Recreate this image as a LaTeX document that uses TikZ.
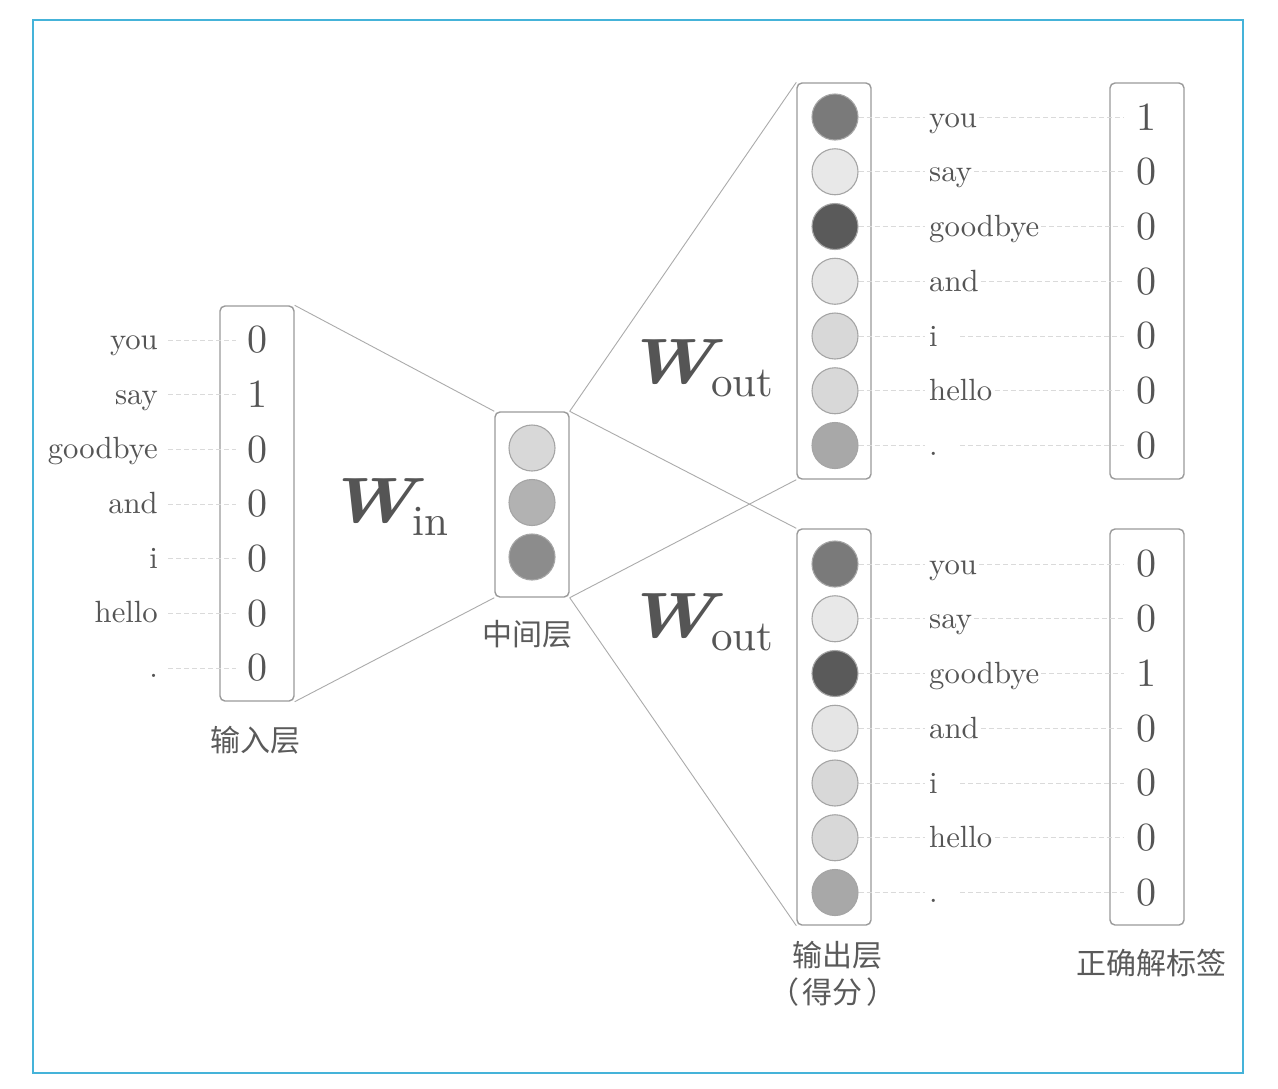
\documentclass[tikz,border=0pt]{standalone}
\usepackage{fontspec}
\newfontfamily\cjk{Noto Sans CJK SC}
\newfontfamily\lmten{lmroman10-regular.otf}[BoldItalicFont=lmroman10-bolditalic.otf]
\usetikzlibrary{calc}
\definecolor{txt}{HTML}{555555}
\definecolor{cjkc}{HTML}{5A5A5A}
\definecolor{boxc}{HTML}{9A9A9A}
\definecolor{connc}{HTML}{ABABAB}
\definecolor{dashc}{HTML}{DADADA}
\definecolor{circb}{HTML}{A5A5A5}
\definecolor{frame}{HTML}{45B3D9}
\newcommand\mylbl[1]{\setbox0\hbox{#1}\ifdim\wd0<29pt\makebox[29pt][l]{#1}\else#1\fi}
\newcommand\wsub[1]{\scalebox{1.2}[1]{\fontsize{64}{70}\selectfont\bfseries\itshape W}\kern-3pt\raisebox{-13pt}{\fontsize{43}{50}\selectfont #1}}
\tikzset{
  layerbox/.style={draw=boxc, line width=1.4pt, rounded corners=5pt, minimum width=74pt, inner sep=0pt},
  circ/.style={circle, draw=circb, line width=1.1pt, minimum size=46pt, inner sep=0pt},
  lab/.style={text=txt, inner sep=0pt, font=\lmten\fontsize{30.7}{36}\selectfont},
  num/.style={text=txt, inner sep=0pt, font=\lmten\fontsize{40}{44}\selectfont},
  cjkl/.style={text=cjkc, inner sep=0pt, font=\cjk\fontsize{30}{36}\selectfont},
  wlab/.style={text=txt, inner sep=0pt, font=\lmten, anchor=base west},
  conn/.style={draw=connc, line width=0.9pt},
  dl/.style={draw=dashc, line width=1pt, dash pattern=on 5pt off 3pt}
}
\begin{document}
\begin{tikzpicture}[x=1pt,y=-1pt]
\fill[white] (0,0) rectangle (1278,1088);
\useasboundingbox (0,0) rectangle (1278,1088);
\draw[frame, line width=1.5pt] (33,20) rectangle (1243,1073);

% boxes
\node[layerbox, minimum height=395pt] (inbox) at (257,503.5) {};
\node[layerbox, minimum height=185pt] (mid) at (532,504.5) {};
\node[layerbox, minimum height=396pt] (outa) at (834,281) {};
\node[layerbox, minimum height=396pt] (tgta) at (1147,281) {};
\node[layerbox, minimum height=396pt] (outb) at (834,727) {};
\node[layerbox, minimum height=396pt] (tgtb) at (1147,727) {};

% connectors between layers
\draw[conn] (inbox.north east) -- (mid.north west);
\draw[conn] (inbox.south east) -- (mid.south west);
\draw[conn] (mid.north east) -- (outa.north west);
\draw[conn] (mid.south east) -- (outa.south west);
\draw[conn] (mid.north east) -- (outb.north west);
\draw[conn] (mid.south east) -- (outb.south west);

% input layer
\foreach \w/\vv [count=\i from 0] in {you/0,say/1,goodbye/0,and/0,i/0,hello/0,./0} {
  \pgfmathsetmacro\yy{340+54.67*\i}
  \node[num] (in\i) at (257,\yy) {\vv};
  \node[lab, anchor=base east] (inl\i) at (158,\yy+9.5) {\w};
  \draw[dl, shorten <=10pt, shorten >=11pt] (inl\i.east |- in\i) -- (in\i.west);
}

% middle layer
\foreach \gg [count=\i from 1] in {0.847,0.70,0.55} {
  \pgfmathsetmacro\yy{448+54.5*(\i-1)}
  \definecolor{cf}{gray}{\gg}
  \node[circ, fill=cf] (m\i) at (532,\yy) {};
}

% output layers
\foreach \kk/\by/\tg in {a/117/1,b/564/3} {
  \foreach \w/\gg [count=\i from 1] in {you/0.48,say/0.91,goodbye/0.353,and/0.90,i/0.847,hello/0.847,./0.66} {
    \pgfmathsetmacro\yy{\by+54.75*(\i-1)}
    \definecolor{cf}{gray}{\gg}
    \node[circ, fill=cf] (c\kk\i) at (835,\yy) {};
    \node[lab, anchor=base west] (l\kk\i) at (929,\yy+10) {\mylbl{\w}};
    \node[num] (n\kk\i) at (1146,\yy) {\ifnum\i=\tg\relax 1\else 0\fi};
    \draw[dl, shorten >=4pt] (c\kk\i.east) -- (l\kk\i.west |- c\kk\i);
    \draw[dl, shorten <=2pt, shorten >=12pt] (l\kk\i.east |- c\kk\i) -- (n\kk\i.west);
  }
}

% weight labels
\node[wlab] (win) at (326,522) {\wsub{in}};
\node[wlab] (wouta) at (625,383) {\wsub{out}};
\node[wlab] (woutb) at (625,637) {\wsub{out}};

% captions
\node[cjkl] (inlab) at (255,740) {输入层};
\node[cjkl] (midlab) at (527,634) {中间层};
\node[cjkl] (outlab) at (837,955) {输出层};
\node[cjkl] (outlab2) at (833,992) {（\kern4pt 得分\kern4pt ）};
\node[cjkl] (tgtlab) at (1151,963) {正确解标签};
\end{tikzpicture}
\end{document}
